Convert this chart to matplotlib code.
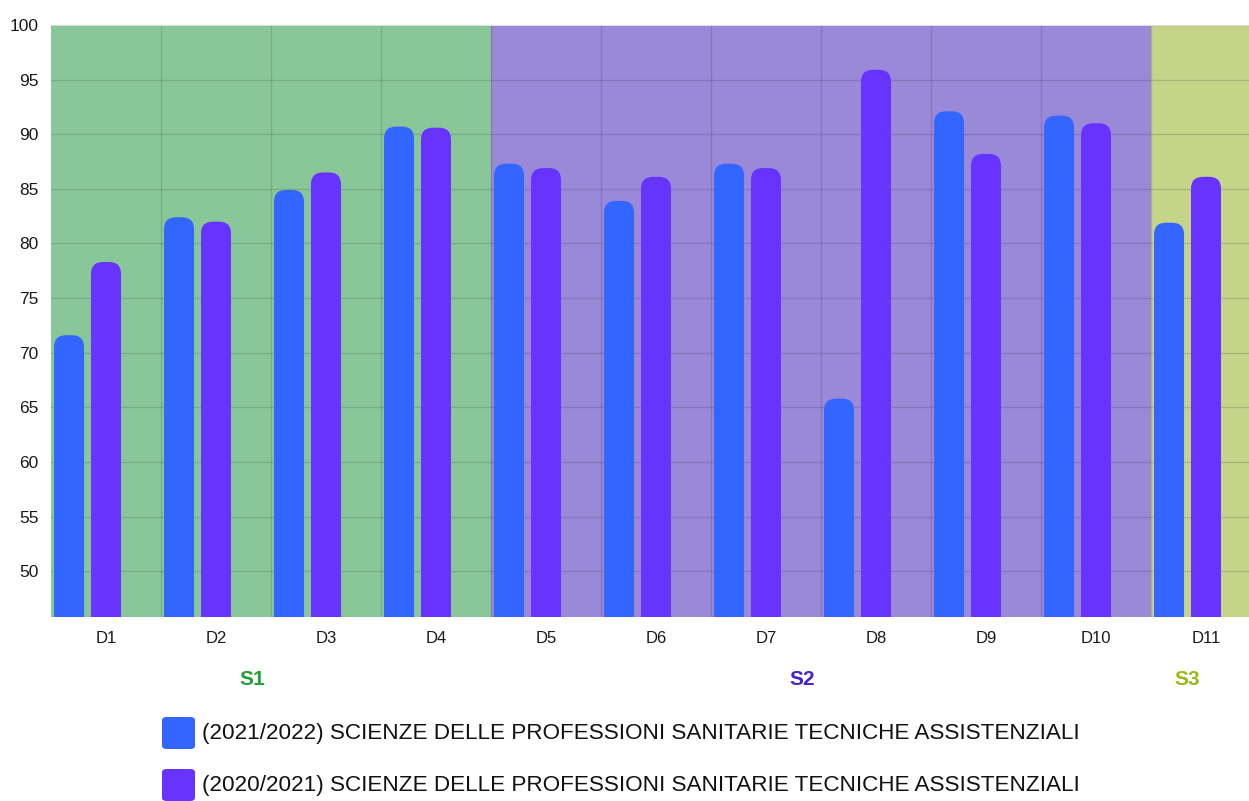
import numpy as np
import matplotlib.pyplot as plt
from matplotlib.patches import FancyBboxPatch

plt.rcParams['font.family'] = ['Liberation Sans', 'DejaVu Sans']

categories = ["D1", "D2", "D3", "D4", "D5", "D6", "D7", "D8", "D9", "D10", "D11"]
vals_2122 = [71.6, 82.4, 84.9, 90.7, 87.3, 83.9, 87.3, 65.8, 92.1, 91.7, 81.9]
vals_2021 = [78.3, 82.0, 86.5, 90.6, 86.9, 86.1, 86.9, 95.9, 88.2, 91.0, 86.1]
series_names = ["(2021/2022) SCIENZE DELLE PROFESSIONI SANITARIE TECNICHE ASSISTENZIALI",
                "(2020/2021) SCIENZE DELLE PROFESSIONI SANITARIE TECNICHE ASSISTENZIALI"]
groups = ["S1", "S2", "S3"]
group_idx = [(0, 3), (4, 9), (10, 10)]

colors = ["#3366ff", "#6633ff"]
band_colors = ["#89c799", "#9a89d9", "#c5d489"]
label_colors = ["#22a03a", "#4422cc", "#99b81e"]

ymin, ymax = 45.8, 100
bar_w = 0.273
offsets = [-0.336, 0.0]

fig = plt.figure(figsize=(12.49, 8.01), dpi=100)
# plot area runs a little past the right edge of the image, as in the original
ax = fig.add_axes([51 / 1249, 1 - 617 / 801, 1210 / 1249, (617 - 25) / 801])
ax.set_xlim(-0.5, len(categories) - 0.5)
ax.set_ylim(ymin, ymax)

# background bands per group
for (a, b), c in zip(group_idx, band_colors):
    ax.axvspan(a - 0.5, b + 0.5, color=c, zorder=0, lw=0)

# grid
for y in range(50, 101, 5):
    ax.axhline(y, color="#000000", alpha=0.13, lw=1, zorder=1)
for x in np.arange(0.5, len(categories) - 0.5, 1):
    ax.axvline(x, color="#000000", alpha=0.13, lw=1, zorder=1)

# aspect for rounded tops
fig.canvas.draw()
bb = ax.get_window_extent()
px_x = bb.width / (len(categories))
px_y = bb.height / (ymax - ymin)
aspect = px_x / px_y
r = 12 / px_x

x = np.arange(len(categories))
for vals, off, c in zip([vals_2122, vals_2021], offsets, colors):
    for xi, v in zip(x, vals):
        p = FancyBboxPatch((xi + off - bar_w / 2, 30), bar_w, v - 30,
                           boxstyle=f"round,pad=0,rounding_size={r}",
                           mutation_aspect=aspect, fc=c, ec="none", zorder=2)
        ax.add_patch(p)

ax.set_xticks(x)
ax.set_xticklabels(categories, fontsize=12, color="#1a1a1a")
ax.set_yticks(range(50, 101, 5))
ax.set_yticklabels([str(t) for t in range(50, 101, 5)], fontsize=12.5, color="#1a1a1a")
ax.tick_params(length=0, pad=10)
ax.tick_params(axis="y", pad=9)
for s in ["left", "right", "bottom"]:
    ax.spines[s].set_visible(False)
ax.spines["top"].set_color("#dddddd")

# group labels, centred under the bars of each group
for name, (a, b), c in zip(groups, group_idx, label_colors):
    left = a + offsets[0] - bar_w / 2
    right = b + offsets[1] + bar_w / 2
    ax.text((left + right) / 2, -0.105, name, transform=ax.get_xaxis_transform(),
            ha="center", va="center", fontsize=15, fontweight="bold", color=c)

# legend
for i, (name, c) in enumerate(zip(series_names, colors)):
    yc = 1 - (733 + 52 * i) / 801
    sw = FancyBboxPatch((162 / 1249, yc - 16 / 801), 33 / 1249, 32 / 801,
                        boxstyle="round,pad=0,rounding_size=0.004",
                        transform=fig.transFigure, fc=c, ec="none")
    fig.patches.append(sw)
    fig.text(202 / 1249, yc, name, fontsize=16.2, va="center", color="#111111")

fig.savefig("out.png", dpi=100)
